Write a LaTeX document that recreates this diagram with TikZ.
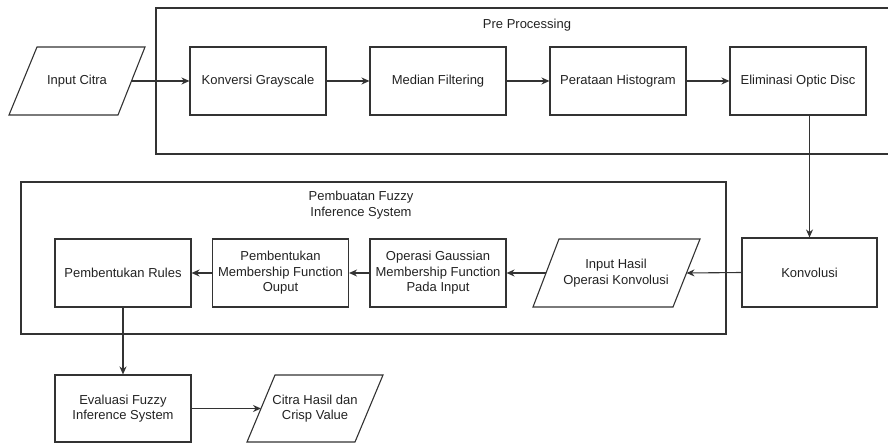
\documentclass[tikz,border=0pt]{standalone}
\usepackage{fontspec}
\setmainfont{Liberation Sans}
\usetikzlibrary{arrows.meta}
\definecolor{ln}{HTML}{333333}
\definecolor{tx}{HTML}{222222}
\tikzset{
  box/.style={draw=ln, line width=1.1pt, minimum width=136pt, minimum height=68pt, inner sep=0pt, align=center, font=\fontsize{13}{15.5}\selectfont, text=tx},
  lbl/.style={inner sep=0pt, align=center, font=\fontsize{13}{15.5}\selectfont, text=tx},
  frame/.style={draw=ln, line width=1.1pt},
  shp/.style={draw=ln, line width=1.1pt, line join=miter},
  conn/.style={draw=ln, line width=1.1pt, -{Stealth[length=8pt,width=7pt]}}
}
\begin{document}
\begin{tikzpicture}[x=1pt,y=-1pt]
\useasboundingbox (0,0) rectangle (888,443);
% containers
\begin{scope}
\clip (0,0) rectangle (888,443);
\draw[frame] (156,8) rectangle (900,154);
\end{scope}
\draw[frame] (21,182) rectangle (726,334);
\node[lbl] (pretitle) at (527,25) {Pre Processing};
\node[lbl] (fuzztitle) at (361,205) {Pembuatan Fuzzy\\Inference System};
% input citra parallelogram
\draw[shp] (9,115) -- (37,47) -- (145,47) -- (118,115) -- cycle;
\node[lbl] (inc) at (77,81) {Input Citra};
\coordinate (incR) at (131.5,81);
% preprocessing boxes
\node[box] (kg) at (258,81) {Konversi Grayscale};
\node[box] (mf) at (438,81) {Median Filtering};
\node[box] (ph) at (618,81) {Perataan Histogram};
\node[box] (eod) at (798,81) {Eliminasi Optic Disc};
\node[box, minimum width=135pt, minimum height=69pt] (konv) at (809.5,272.5) {Konvolusi};
% fuzzy boxes
\node[box] (pr) at (123,273) {Pembentukan Rules};
\node[box] (pmo) at (280.5,273) {Pembentukan\\Membership Function\\Ouput};
\node[box] (og) at (438,273) {Operasi Gaussian\\Membership Function\\Pada Input};
\draw[shp] (533,307) -- (559,239) -- (700,239) -- (673,307) -- cycle;
\node[lbl] (ih) at (616,273) {Input Hasil\\Operasi Konvolusi};
\coordinate (ihR) at (686.5,273);
\coordinate (ihL) at (546,273);
% bottom
\node[box, minimum height=67pt] (ev) at (123,408.5) {Evaluasi Fuzzy\\Inference System};
\draw[shp] (247,442) -- (275,375) -- (383,375) -- (355,442) -- cycle;
\node[lbl] (ch) at (315,408.5) {Citra Hasil dan\\Crisp Value};
\coordinate (chL) at (261,408.5);
% connectors
\draw[conn] (incR) -- (kg.west);
\draw[conn] (kg.east) -- (mf.west);
\draw[conn] (mf.east) -- (ph.west);
\draw[conn] (ph.east) -- (eod.west);
\draw[conn] (konv.north |- eod.south) -- (konv.north);
\draw[conn] (konv.west) -- (ihR);
\draw[conn] (ihL) -- (og.east);
\draw[conn] (og.west) -- (pmo.east);
\draw[conn] (pmo.west) -- (pr.east);
\draw[conn] (pr.south) -- (ev.north);
\draw[conn] (ev.east) -- (chL);
\end{tikzpicture}
\end{document}
